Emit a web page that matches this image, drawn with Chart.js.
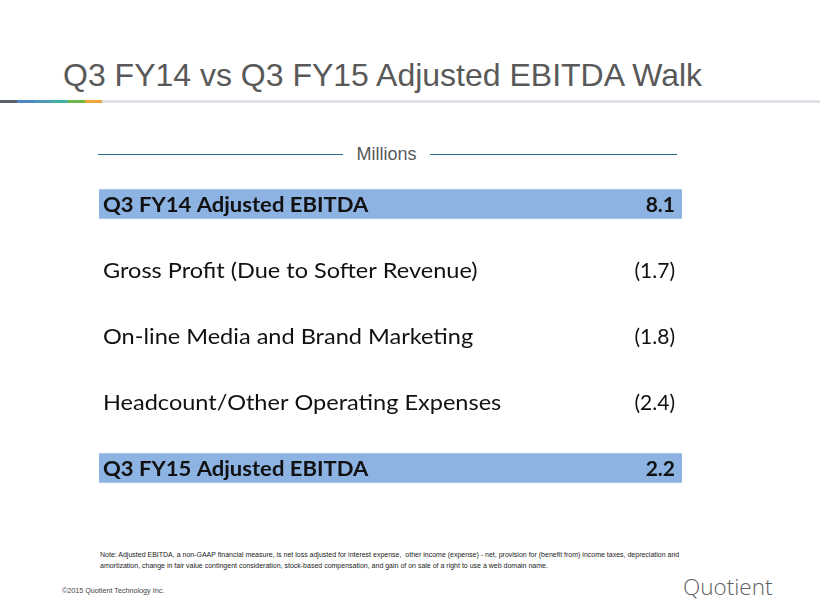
<!doctype html>
<html lang="en">
  <head>
    <meta charset="utf-8">
    <title>Q3 FY14 vs Q3 FY15 Adjusted EBITDA Walk</title>
    <style>
      * {
        margin: 0;
        padding: 0;
      }
      body {
        width: 820px;
        height: 615px;
        background: #fff;
        position: relative;
        overflow: hidden;
        font-family: "Liberation Sans", Arial, sans-serif;
      }
      .title {
        position: absolute;
        left: 63px;
        top: 57px;
        font-size: 32px;
        color: #595959;
        white-space: nowrap;
      }
      .rule {
        position: absolute;
        left: 0;
        top: 100px;
        width: 820px;
        height: 3px;
        background: #e1e2e8;
      }
      .seg {
        position: absolute;
        top: 100px;
        width: 17px;
        height: 3px;
      }
      .millions {
        position: absolute;
        left: 343px;
        width: 87px;
        top: 144px;
        text-align: center;
        font-size: 18px;
        color: #595959;
      }
      .mline {
        position: absolute;
        top: 154px;
        height: 1px;
        background: #2a6a8a;
      }
      .chartBox {
        position: absolute;
        left: 99px;
        top: 171px;
        width: 583px;
        height: 330px;
      }
      .note {
        position: absolute;
        left: 100px;
        top: 550px;
        width: 590px;
        font-size: 7px;
        line-height: 10.5px;
        color: #222;
      }
      .copy {
        position: absolute;
        left: 62px;
        top: 586px;
        font-size: 7.2px;
        color: #444;
      }
      .logo {
        position: absolute;
        left: 683px;
        top: 571px;
        font-family: "Open Sans", sans-serif;
        font-weight: 300;
        font-size: 22.5px;
        color: #5f6062;
      }
    </style>
  </head>
  <body>
    <div class="title">Q3 FY14 vs Q3 FY15 Adjusted EBITDA Walk</div>
    <div class="rule"></div>
    <div class="seg" style="left:0;background:#5a5f6a"></div>
    <div class="seg" style="left:17px;background:#4f86c6"></div>
    <div class="seg" style="left:34px;background:#4a9ab8"></div>
    <div class="seg" style="left:51px;background:#45b0a0"></div>
    <div class="seg" style="left:68px;background:#6cb84a"></div>
    <div class="seg" style="left:85px;background:#f0a43a"></div>

    <div class="mline" style="left:98px;width:245px"></div>
    <div class="millions">Millions</div>
    <div class="mline" style="left:430px;width:247px"></div>

    <div class="chartBox">
      <canvas id="walkChart"></canvas>
    </div>

    <div class="note">Note: Adjusted EBITDA, a non-GAAP financial measure, is net loss adjusted for interest expense,&nbsp; other income (expense) - net, provision for (benefit from) income taxes, depreciation and amortization, change in fair value contingent consideration, stock-based compensation, and gain of on sale of a right to use a web domain name.</div>
    <div class="copy">©2015 Quotient Technology Inc.</div>
    <div class="logo">Quotient</div>

    <script src="https://cdn.jsdelivr.net/npm/chart.js"></script>
    <script>
    // setup
    const rowLabels = [
      'Q3 FY14 Adjusted EBITDA',
      'Gross Profit (Due to Softer Revenue)',
      'On-line Media and Brand Marketing',
      'Headcount/Other Operating Expenses',
      'Q3 FY15 Adjusted EBITDA'
    ];
    const rowValues = [8.1, -1.7, -1.8, -2.4, 2.2];
    const totalRows = [true, false, false, false, true];

    function fmt(v) {
      return v < 0 ? '(' + Math.abs(v).toFixed(1) + ')' : v.toFixed(1);
    }

    // text drawn at each row of the category scale
    const rowText = {
      id: 'rowText',
      afterDatasetsDraw(chart) {
        const ctx = chart.ctx;
        const y = chart.scales.y;
        const x = chart.scales.x;
        ctx.save();
        ctx.fillStyle = '#111';
        ctx.textBaseline = 'middle';
        rowLabels.forEach((lab, i) => {
          const py = y.getPixelForValue(i) + 1;
          const left = x.getPixelForValue(0) + 4;
          // Lato is narrower than the original face, so stretch it a little
          const sx = totalRows[i] ? 1.05 : 1.12;
          ctx.font = (totalRows[i] ? 'bold ' : '') + '21px Lato, "Open Sans", sans-serif';
          ctx.textAlign = 'left';
          ctx.save();
          ctx.translate(left, py);
          ctx.scale(sx, 1);
          ctx.fillText(lab, 0, 0);
          ctx.restore();
          ctx.textAlign = 'right';
          ctx.fillText(fmt(rowValues[i]), x.getPixelForValue(1) - 7, py);
        });
        ctx.restore();
      }
    };

    const data = {
      labels: rowLabels,
      datasets: [{
        label: 'band',
        data: totalRows.map(t => t ? [0, 1] : null),
        backgroundColor: '#8db3e2',
        borderWidth: 0,
        categoryPercentage: 1,
        barPercentage: 0.45
      }]
    };

    // config
    const config = {
      type: 'bar',
      data,
      options: {
        indexAxis: 'y',
        responsive: true,
        maintainAspectRatio: false,
        animation: false,
        layout: { padding: 0 },
        plugins: {
          legend: { display: false },
          tooltip: { enabled: false }
        },
        scales: {
          x: { display: false, min: 0, max: 1 },
          y: { display: false }
        }
      },
      plugins: [rowText]
    };

    new Chart(document.getElementById('walkChart'), config);
    </script>
  </body>
</html>
